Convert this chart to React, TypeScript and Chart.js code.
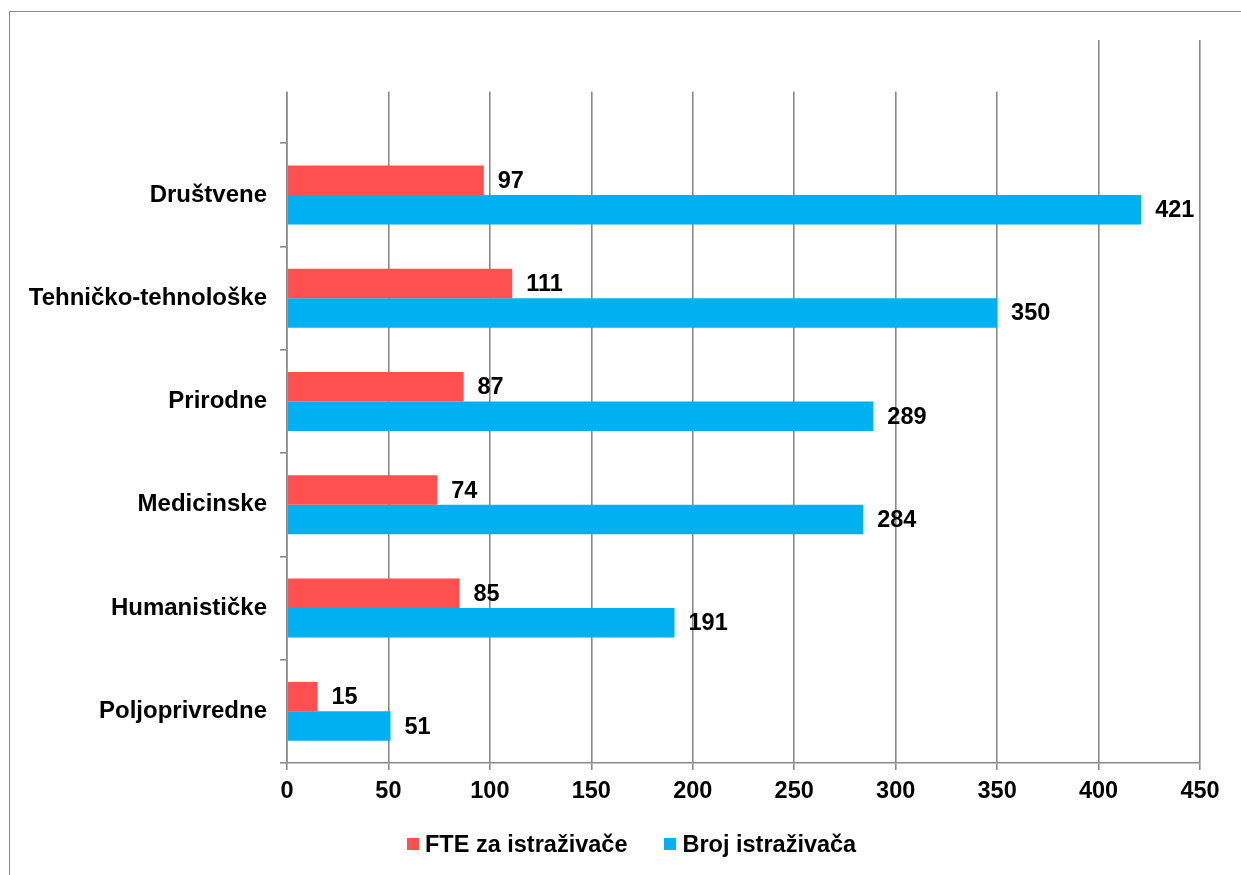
import React, { useEffect, useRef } from "react";
import { Chart, registerables } from "chart.js";

Chart.register(...registerables);

const categories = [
  "Društvene",
  "Tehničko-tehnološke",
  "Prirodne",
  "Medicinske",
  "Humanističke",
  "Poljoprivredne",
];
const fteValues = [97, 111, 87, 74, 85, 15];
const brojValues = [421, 350, 289, 284, 191, 51];
const seriesNames = ["FTE za istraživače", "Broj istraživača"];
const seriesColors = ["#FF5050", "#00B0F0"];
const xMin = 0;
const xMax = 450;
const xStep = 50;

const FONT = '"Liberation Sans", Arial, Helvetica, sans-serif';
const GRID = "#8a8a8a";

const valueLabels = {
  id: "valueLabels",
  afterDatasetsDraw(chart: any) {
    const ctx = chart.ctx;
    ctx.save();
    ctx.font = `bold 23.5px ${FONT}`;
    ctx.fillStyle = "#000";
    ctx.textAlign = "left";
    ctx.textBaseline = "middle";
    chart.data.datasets.forEach((ds: any, i: number) => {
      const meta = chart.getDatasetMeta(i);
      meta.data.forEach((el: any, j: number) => {
        const v = ds.data[j];
        if (v == null) return;
        ctx.fillText(String(v), el.x + 14, el.y + 1);
      });
    });
    ctx.restore();
  },
};

// the original has a blank box over the top strip of the plot
const topCover = {
  id: "topCover",
  afterDraw(chart: any) {
    const { ctx, chartArea, scales } = chart;
    const band = (chartArea.bottom - chartArea.top) / (categories.length + 1);
    const x0 = chartArea.left - 12;
    const x1 = scales.x.getPixelForValue(375);
    ctx.save();
    ctx.fillStyle = "#ffffff";
    ctx.fillRect(x0, chartArea.top - 3, x1 - x0, band / 2 + 3);
    ctx.restore();
  },
};

export default function App() {
  const ref = useRef<HTMLCanvasElement | null>(null);

  useEffect(() => {
    if (!ref.current) return;
    const labels = ["", ...categories];
    const chart = new Chart(ref.current, {
      type: "bar",
      data: {
        labels,
        datasets: [
          {
            label: seriesNames[0],
            data: [null, ...fteValues],
            backgroundColor: seriesColors[0],
            borderWidth: 0,
          },
          {
            label: seriesNames[1],
            data: [null, ...brojValues],
            backgroundColor: seriesColors[1],
            borderWidth: 0,
          },
        ],
      },
      options: {
        indexAxis: "y",
        responsive: false,
        maintainAspectRatio: false,
        animation: false,
        devicePixelRatio: 1,
        layout: { padding: { left: 0, right: 41, top: 40, bottom: 52 } },
        datasets: {
          bar: { categoryPercentage: 0.571, barPercentage: 1 },
        },
        plugins: {
          legend: { display: false },
          tooltip: { enabled: false },
          title: { display: false },
        },
        scales: {
          x: {
            type: "linear",
            min: xMin,
            max: xMax,
            ticks: {
              stepSize: xStep,
              color: "#000",
              font: { family: FONT, size: 23.5, weight: "bold" },
              padding: 7,
            },
            grid: {
              color: GRID,
              lineWidth: 1.6,
              drawTicks: true,
              tickLength: 7,
            },
            border: { display: true, color: GRID, width: 1.6 },
            afterFit: (scale: any) => {
              scale.height = 60;
            },
          },
          y: {
            type: "category",
            ticks: {
              color: "#000",
              font: { family: FONT, size: 24, weight: "bold" },
              padding: 13,
              autoSkip: false,
            },
            grid: {
              color: GRID,
              lineWidth: 1.6,
              drawOnChartArea: false,
              drawTicks: true,
              tickLength: 7,
              offset: true,
            },
            border: { display: true, color: GRID, width: 1.6 },
            afterFit: (scale: any) => {
              scale.width = 287;
            },
          },
        },
      },
      plugins: [valueLabels, topCover],
    } as any);
    return () => chart.destroy();
  }, []);

  return (
    <div
      style={{
        position: "fixed",
        left: 0,
        top: 0,
        width: 1241,
        height: 875,
        overflow: "hidden",
        background: "#fff",
      }}
    >
      <div
        style={{
          position: "absolute",
          left: 8.5,
          top: 10.5,
          width: 1400,
          height: 1000,
          borderLeft: "1.5px solid #8a8a8a",
          borderTop: "1.5px solid #8a8a8a",
        }}
      />
      <canvas
        ref={ref}
        width={1241}
        height={875}
        style={{ position: "absolute", left: 0, top: 0, width: 1241, height: 875 }}
      />
      <div
        style={{
          position: "absolute",
          left: 407,
          top: 830,
          height: 28,
          display: "flex",
          alignItems: "center",
          fontFamily: FONT,
          fontWeight: "bold",
          fontSize: 23.5,
          color: "#000",
          whiteSpace: "nowrap",
        }}
      >
        {seriesNames.map((name, i) => (
          <div
            key={name}
            style={{ display: "flex", alignItems: "center", marginLeft: i === 0 ? 0 : 37 }}
          >
            <span
              style={{
                display: "inline-block",
                width: 12,
                height: 12,
                background: seriesColors[i],
                marginRight: 6,
              }}
            />
            <span style={{ lineHeight: "28px" }}>{name}</span>
          </div>
        ))}
      </div>
    </div>
  );
}
